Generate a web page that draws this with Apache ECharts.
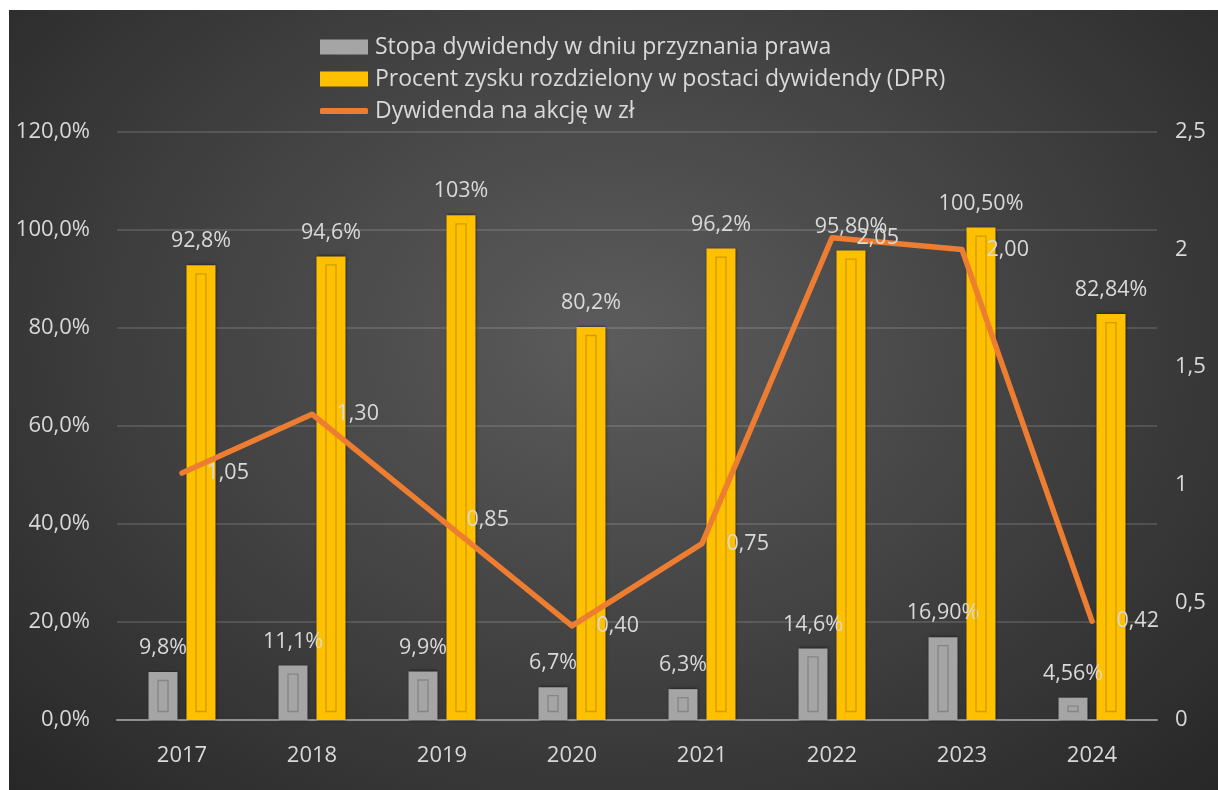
<!DOCTYPE html>
<html>
<head>
<meta charset="utf-8">
<script src="https://cdn.jsdelivr.net/npm/echarts@6/dist/echarts.min.js"></script>
<style>
  html, body { margin: 0; padding: 0; background: #ffffff; }
  #chart {
    position: absolute; left: 9px; top: 10px; width: 1209px; height: 780px;
    background: radial-gradient(ellipse at 50% 42%, #5c5c5c 0%, #474747 40%, #272727 100%);
  }
</style>
</head>
<body>
<div id="chart"></div>
<script>
const categories = ['2017', '2018', '2019', '2020', '2021', '2022', '2023', '2024'];
const yieldValues = [9.8, 11.1, 9.9, 6.7, 6.3, 14.6, 16.9, 4.56];
const yieldLabels = ['9,8%', '11,1%', '9,9%', '6,7%', '6,3%', '14,6%', '16,90%', '4,56%'];
const dprValues = [92.8, 94.6, 103, 80.2, 96.2, 95.8, 100.5, 82.84];
const dprLabels = ['92,8%', '94,6%', '103%', '80,2%', '96,2%', '95,80%', '100,50%', '82,84%'];
const dpsValues = [1.05, 1.30, 0.85, 0.40, 0.75, 2.05, 2.00, 0.42];
const leftTicks = ['0,0%', '20,0%', '40,0%', '60,0%', '80,0%', '100,0%', '120,0%'];
const rightTicks = ['0', '0,5', '1', '1,5', '2', '2,5'];

const seriesNames = [
  'Stopa dywidendy w dniu przyznania prawa',
  'Procent zysku rozdzielony w postaci dywidendy (DPR)',
  'Dywidenda na akcję w zł'
];

const FONT = 'Open Sans';
const TXT = '#d9d9d9';
const BAR_W = 29;
const GAP = 9;
const LEGEND_TEXT = { color: TXT, fontSize: 23, fontFamily: FONT, lineHeight: 24, padding: [0, 0, 0, 2] };

const chart = echarts.init(document.getElementById('chart'), null, { renderer: 'canvas' });

function innerOutline(values, offsetSign, strokeColor) {
  return {
    type: 'custom',
    silent: true,
    z: 4,
    yAxisIndex: 0,
    data: values.map((v, i) => [i, v]),
    renderItem: function (params, api) {
      const idx = api.value(0);
      const top = api.coord([idx, api.value(1)]);
      const base = api.coord([idx, 0]);
      const cx = top[0] + offsetSign * (BAR_W + GAP) / 2;
      const insetX = 9.5, insetY = 8.5;
      const h = base[1] - top[1] - 2 * insetY;
      const w = BAR_W - 2 * insetX;
      if (h < 2) {
        return {
          type: 'rect',
          shape: { x: cx - w / 2, y: top[1] + (base[1] - top[1]) / 2 - 1, width: w, height: 2 },
          style: { fill: 'none', stroke: strokeColor, lineWidth: 1 }
        };
      }
      return {
        type: 'rect',
        shape: { x: cx - w / 2, y: top[1] + insetY, width: w, height: h },
        style: { fill: 'none', stroke: strokeColor, lineWidth: 1.3 }
      };
    }
  };
}

chart.setOption({
  backgroundColor: 'transparent',
  textStyle: { fontFamily: FONT },
  animation: false,
  legend: [
    {
      orient: 'vertical',
      left: 306,
      top: 20,
      itemWidth: 48,
      itemHeight: 15,
      itemGap: 8,
      data: [
        { name: seriesNames[0], icon: 'rect' },
        { name: seriesNames[1], icon: 'rect' }
      ],
      textStyle: LEGEND_TEXT
    },
    {
      orient: 'vertical',
      left: 306,
      top: 84,
      itemWidth: 48,
      itemHeight: 6,
      data: [{ name: seriesNames[2], icon: 'roundRect' }],
      textStyle: LEGEND_TEXT
    }
  ],
  grid: { left: 108, right: 61, top: 122, bottom: 70, containLabel: false },
  xAxis: {
    type: 'category',
    data: categories,
    axisTick: { show: false },
    axisLine: { lineStyle: { color: '#8f8f8f', width: 2 } },
    axisLabel: { color: TXT, fontSize: 22, fontFamily: FONT, margin: 25 }
  },
  yAxis: [
    {
      type: 'value', min: 0, max: 120, interval: 20,
      axisLine: { show: false }, axisTick: { show: false },
      splitLine: { lineStyle: { color: 'rgba(255,255,255,0.13)', width: 2 } },
      axisLabel: {
        color: TXT, fontSize: 22, fontFamily: FONT, margin: 27,
        formatter: function (v) { return leftTicks[Math.round(v / 20)]; }
      }
    },
    {
      type: 'value', min: 0, max: 2.5, interval: 0.5,
      axisLine: { show: false }, axisTick: { show: false },
      splitLine: { show: false },
      axisLabel: {
        color: TXT, fontSize: 22, fontFamily: FONT, margin: 18,
        formatter: function (v) { return rightTicks[Math.round(v / 0.5)]; }
      }
    }
  ],
  series: [
    {
      name: seriesNames[0],
      type: 'bar',
      yAxisIndex: 0,
      barWidth: BAR_W,
      barGap: (GAP / BAR_W * 100) + '%',
      z: 3,
      data: yieldValues,
      itemStyle: { color: '#a5a5a5', shadowBlur: 3, shadowColor: 'rgba(0,0,0,0.7)' },
      label: {
        show: true, position: 'top', distance: 13,
        color: TXT, fontSize: 21.5, fontFamily: FONT,
        formatter: function (p) { return yieldLabels[p.dataIndex]; }
      }
    },
    {
      name: seriesNames[1],
      type: 'bar',
      yAxisIndex: 0,
      barWidth: BAR_W,
      z: 3,
      data: dprValues,
      itemStyle: { color: '#ffc000', shadowBlur: 3, shadowColor: 'rgba(0,0,0,0.7)' },
      label: {
        show: true, position: 'top', distance: 13,
        color: TXT, fontSize: 21.5, fontFamily: FONT,
        formatter: function (p) { return dprLabels[p.dataIndex]; }
      }
    },
    innerOutline(yieldValues, -1, '#858585'),
    innerOutline(dprValues, 1, '#cf9c00'),
    {
      name: seriesNames[2],
      type: 'line',
      yAxisIndex: 1,
      data: dpsValues,
      z: 6,
      symbol: 'circle',
      symbolSize: 1,
      showSymbol: true,
      itemStyle: { color: '#ed7d31' },
      lineStyle: { color: '#ed7d31', width: 5.5, cap: 'round', join: 'round' },
      label: {
        show: true, position: 'right', distance: 24,
        color: TXT, fontSize: 21.5, fontFamily: FONT,
        formatter: function (p) { return p.value.toFixed(2).replace('.', ','); }
      }
    }
  ]
});
</script>
</body>
</html>
